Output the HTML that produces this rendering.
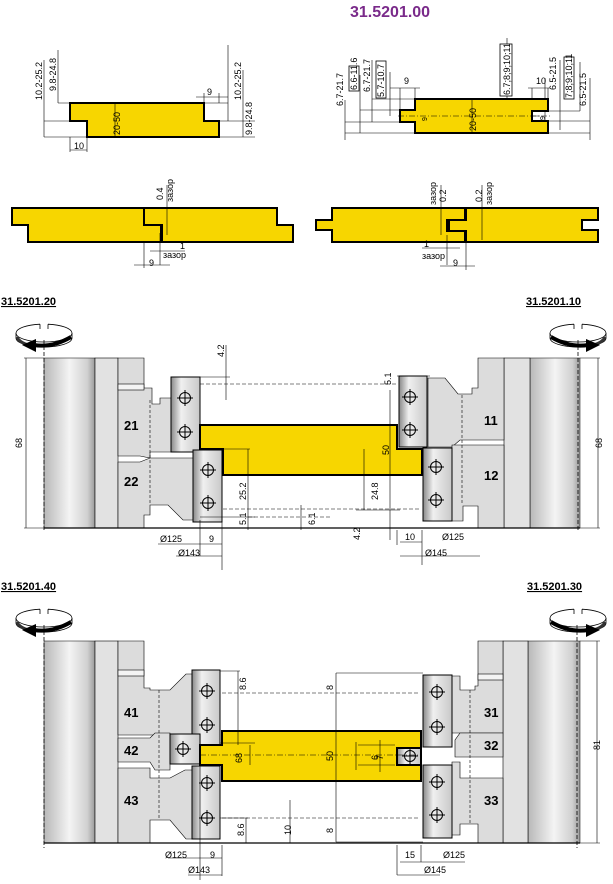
<!DOCTYPE html>
<html><head><meta charset="utf-8"><style>
html,body{margin:0;padding:0;background:#fff}
svg{display:block}
text{font-family:"Liberation Sans",sans-serif;font-size:9px;fill:#000}
.b{font-weight:bold;font-size:13px}
.t{font-weight:bold;font-size:11px;text-decoration:underline}
</style></head><body>
<svg width="613" height="884" viewBox="0 0 613 884" xmlns="http://www.w3.org/2000/svg">
<defs>
<linearGradient id="cyl" x1="0" x2="1" y1="0" y2="0">
<stop offset="0" stop-color="#b8b8b8"/><stop offset="0.5" stop-color="#f4f4f4"/><stop offset="0.85" stop-color="#d0d0d0"/><stop offset="1" stop-color="#9a9a9a"/></linearGradient>
<linearGradient id="kn" x1="0" x2="1" y1="0" y2="0">
<stop offset="0" stop-color="#888"/><stop offset="0.35" stop-color="#f0f0f0"/><stop offset="1" stop-color="#c8c8c8"/></linearGradient>
<g id="hole"><circle r="5.5" fill="none" stroke="#000" stroke-width="1"/><path d="M-8 0H8M0 -8V8" stroke="#000" stroke-width="1"/></g>
<g id="rot">
<path d="M16 333 V338 A28 9 0 0 0 72 338 V333" fill="#fff" stroke="#000" stroke-width="0.8"/>
<path d="M40 324.2 A28 9 0 0 0 16 333 A28 9 0 0 0 72 333 A28 9 0 0 0 48 324.2 M40 324.2 V329 M48 324.2 V329" fill="#fff" stroke="#000" stroke-width="0.8"/>
<path d="M17 337 Q20 344 34 346" fill="none" stroke="#333" stroke-width="3"/>
<path d="M34 345 Q52 348 71 337" fill="none" stroke="#000" stroke-width="4"/>
<polygon points="22,345 36,339 36,352" fill="#000"/>
</g>
</defs>

<text x="350" y="17" style="font-size:16px;font-weight:bold;fill:#7a2a8a">31.5201.00</text>

<!-- top-left profile -->
<g stroke="#000" stroke-width="0.6" fill="none">
<path d="M44 121H70M44 137H87M58 103H70M70 137V152M87 137V152M70 150H87M204 103H228M219 121H255M219 137H255M204 93V103M219 93V103M196 97H228"/>
<path d="M44 60V137M58 50V103M228 45V121M243 70V137M115 103V137"/>
</g>
<polygon points="70,103 204,103 204,121 219,121 219,137 87,137 87,121 70,121" fill="#f7d600" stroke="#000" stroke-width="2"/>
<line x1="115" y1="103" x2="115" y2="137" stroke="#000" stroke-width="0.6"/>
<text transform="translate(42,100) rotate(-90)">10.2-25.2</text>
<text transform="translate(56,91) rotate(-90)">9.8-24.8</text>
<text transform="translate(241,100) rotate(-90)">10.2-25.2</text>
<text transform="translate(252,135) rotate(-90)">9.8-24.8</text>
<text transform="translate(120,135) rotate(-90)">20-50</text>
<text x="74" y="149">10</text>
<text x="207" y="95">9</text>

<!-- top-right profile -->
<g stroke="#000" stroke-width="0.6" fill="none">
<path d="M345 122H400M345 133H415M360 110H400M372 99H415M390 88H420M400 88V116M415 88V99M345 100V140M360 75V133M372 60V122M390 72V116"/>
<path d="M548 111H580M548 121H590M548 133H590M532 88V116M548 88V99M528 88H550M507 38V133M545 78V121M560 60V130M580 62V111M590 78V140M400 116H540"/>
</g>
<polygon points="415,99 548,99 548,111 532,111 532,121 548,121 548,133 415,133 415,122 400,122 400,110 415,110" fill="#f7d600" stroke="#000" stroke-width="2"/>
<line x1="472" y1="99" x2="472" y2="133" stroke="#000" stroke-width="0.6"/>
<line x1="398" y1="116" x2="552" y2="116" stroke="#000" stroke-width="0.6" stroke-dasharray="6,2,1,2"/>
<g fill="#fff" stroke="#000" stroke-width="0.8">
<rect x="349" y="66" width="10" height="25"/><rect x="376" y="61" width="10" height="37"/>
<rect x="500" y="44" width="12" height="52"/><rect x="564" y="57" width="10" height="42"/>
</g>
<text transform="translate(343,106) rotate(-90)">6.7-21.7</text>
<text transform="translate(357,90) rotate(-90)">6.6-11.6</text>
<text transform="translate(370,92) rotate(-90)">6.7-21.7</text>
<text transform="translate(384,97) rotate(-90)">5.7-10.7</text>
<text transform="translate(510,95) rotate(-90)">6.7;8;9;10;11</text>
<text transform="translate(556,90) rotate(-90)">6.5-21.5</text>
<text transform="translate(572,98) rotate(-90)">7;8;9;10;11</text>
<text transform="translate(586,106) rotate(-90)">6.5-21.5</text>
<text transform="translate(476,131) rotate(-90)">20-50</text>
<text x="404" y="84">9</text>
<text x="536" y="84">10</text>
<text transform="translate(427,121) rotate(-90)" style="font-size:7px">9</text>
<text transform="translate(545,120) rotate(-90)" style="font-size:7px">9</text>

<!-- bottom-left joint -->
<polygon points="12,208 144,208 144,225 161,225 161,242 28,242 28,225 12,225" fill="#f7d600" stroke="#000" stroke-width="2"/>
<polygon points="144,208 277,208 277,225 293,225 293,242 162,242 162,225 144,225" fill="#f7d600" stroke="#000" stroke-width="2"/>
<g stroke="#000" stroke-width="0.6" fill="none"><path d="M167 185V235M160 233V265M144 242V268M134 265H170M150 251H185"/></g>
<text transform="translate(163,200) rotate(-90)">0.4</text>
<text transform="translate(173,202) rotate(-90)">зазор</text>
<text x="180" y="249">1</text><text x="163" y="258">зазор</text><text x="149" y="266">9</text>

<!-- bottom-right joint -->
<polygon points="332,208 465,208 465,220 447,220 447,231 465,231 465,242 332,242 332,230 316,230 316,220 332,220" fill="#f7d600" stroke="#000" stroke-width="2"/>
<polygon points="466,208 598,208 598,220 582,220 582,230 598,230 598,242 466,242 466,231 449,231 449,220 466,220" fill="#f7d600" stroke="#000" stroke-width="2"/>
<g stroke="#000" stroke-width="0.6" fill="none"><path d="M441 185V235M482 185V240M447 235V265M466 235V270M422 248H460M440 266H475"/></g>
<text transform="translate(446,202) rotate(-90)">0.2</text><text transform="translate(436,205) rotate(-90)">зазор</text>
<text transform="translate(482,202) rotate(-90)">0.2</text><text transform="translate(492,205) rotate(-90)">зазор</text>
<text x="424" y="247">1</text><text x="422" y="259">зазор</text><text x="453" y="266">9</text>

<!-- ================= middle section ================= -->
<text x="1" y="305" class="t">31.5201.20</text>
<text x="526" y="305" class="t">31.5201.10</text>
<use href="#rot"/>
<g transform="translate(622,0) scale(-1,1)"><use href="#rot"/></g>

<rect x="44" y="358" width="51" height="170" fill="url(#cyl)" stroke="#000" stroke-width="0.5"/>
<rect x="95" y="358" width="23" height="170" fill="#e2e2e2" stroke="#000" stroke-width="0.6"/>
<path d="M118 358H144V388H152V404H160V398H171V452H150V458L140 456H118Z" fill="#dcdcdc" stroke="#000" stroke-width="0.6"/>
<path d="M118 462H140L150 458H193V520H183L168 505H150V515H144V528H118Z" fill="#dcdcdc" stroke="#000" stroke-width="0.6"/>
<rect x="118" y="384" width="26" height="6" fill="#f4f4f4" stroke="#000" stroke-width="0.6"/>
<path d="M150 400V505" stroke="#000" stroke-width="0.6" stroke-dasharray="3,2"/>
<rect x="171" y="377" width="29" height="75" fill="url(#kn)" stroke="#000"/>
<rect x="193" y="450" width="29" height="72" fill="url(#kn)" stroke="#000"/>
<use href="#hole" x="185" y="398"/><use href="#hole" x="185" y="432"/>
<use href="#hole" x="208" y="470"/><use href="#hole" x="208" y="503"/>
<text x="124" y="430" class="b">21</text><text x="124" y="486" class="b">22</text>

<rect x="530" y="358" width="50" height="170" fill="url(#cyl)" stroke="#000" stroke-width="0.5"/>
<rect x="504" y="358" width="26" height="170" fill="#e2e2e2" stroke="#000" stroke-width="0.6"/>
<path d="M504 358H478V388H472V394H458L445 378H428V447H452L460 440H504Z" fill="#dcdcdc" stroke="#000" stroke-width="0.6"/>
<path d="M504 445H452V521H463V506H478V528H504Z" fill="#dcdcdc" stroke="#000" stroke-width="0.6"/>
<path d="M462 395V505" stroke="#000" stroke-width="0.6" stroke-dasharray="3,2"/>
<rect x="399" y="376" width="28" height="71" fill="url(#kn)" stroke="#000"/>
<rect x="423" y="448" width="29" height="73" fill="url(#kn)" stroke="#000"/>
<use href="#hole" x="410" y="397"/><use href="#hole" x="410" y="430"/>
<use href="#hole" x="436" y="467"/><use href="#hole" x="436" y="500"/>
<text x="484" y="425" class="b">11</text><text x="484" y="480" class="b">12</text>

<polygon points="200,425 397,425 397,449 422,449 422,475 223,475 223,449 200,449" fill="#f7d600" stroke="#000" stroke-width="2"/>
<g stroke="#000" stroke-width="0.6" fill="none">
<path d="M24 358H44M24 528H44M26 358V528M580 358H600M580 528H600M598 358V528"/>
<path d="M44 528H580" stroke-width="1.2"/>
<path d="M200 384H397M223 509H420M248 517H330" stroke-dasharray="4,2"/>
<path d="M200 377H230M226 345V400M248 449V530M223 449H250M200 517H255M301 530V505M397 449H420M390 390V540M397 376H430M364 449V510M356 510H400M397 530V545M422 530V545M422 545V565M222 522V570M200 520V556M158 544H222M176 556H222M400 556H480M400 542H422"/>
</g>
<text transform="translate(22,448) rotate(-90)">68</text>
<text transform="translate(602,448) rotate(-90)">68</text>
<text transform="translate(224,357) rotate(-90)">4.2</text>
<text transform="translate(246,500) rotate(-90)">25.2</text>
<text transform="translate(246,525) rotate(-90)">5.1</text>
<text transform="translate(315,525) rotate(-90)">6.1</text>
<text transform="translate(360,540) rotate(-90)">4.2</text>
<text transform="translate(391,385) rotate(-90)">5.1</text>
<text transform="translate(389,455) rotate(-90)">50</text>
<text transform="translate(378,500) rotate(-90)">24.8</text>
<text x="160" y="542">Ø125</text><text x="209" y="542">9</text>
<text x="178" y="556">Ø143</text>
<text x="405" y="540">10</text><text x="442" y="540">Ø125</text>
<text x="425" y="556">Ø145</text>

<!-- ================= bottom section ================= -->
<text x="1" y="590" class="t">31.5201.40</text>
<text x="527" y="590" class="t">31.5201.30</text>
<g transform="translate(0,285)"><use href="#rot"/></g>
<g transform="translate(622,285) scale(-1,1)"><use href="#rot"/></g>

<rect x="44" y="641" width="51" height="202" fill="url(#cyl)" stroke="#000" stroke-width="0.5"/>
<rect x="95" y="641" width="23" height="202" fill="#e2e2e2" stroke="#000" stroke-width="0.6"/>
<path d="M118 641H144V688H150V690H170L186 674H192V735H118Z" fill="#dcdcdc" stroke="#000" stroke-width="0.6"/>
<path d="M118 738H150L155 733H170V770H155L150 762H118Z" fill="#dcdcdc" stroke="#000" stroke-width="0.6"/>
<path d="M118 768H150V778H170L185 770H192V839H186L170 820H150V843H118Z" fill="#dcdcdc" stroke="#000" stroke-width="0.6"/>
<rect x="118" y="670" width="26" height="6" fill="#f4f4f4" stroke="#000" stroke-width="0.6"/>
<path d="M159 690V820" stroke="#000" stroke-width="0.6" stroke-dasharray="3,2"/>
<rect x="192" y="670" width="28" height="75" fill="url(#kn)" stroke="#000"/>
<rect x="192" y="766" width="28" height="73" fill="url(#kn)" stroke="#000"/>
<rect x="170" y="734" width="30" height="30" fill="url(#kn)" stroke="#000"/>
<use href="#hole" x="207" y="691"/><use href="#hole" x="207" y="725"/>
<use href="#hole" x="183" y="749"/>
<use href="#hole" x="207" y="783"/><use href="#hole" x="207" y="818"/>
<text x="124" y="717" class="b">41</text><text x="124" y="755" class="b">42</text><text x="124" y="805" class="b">43</text>

<rect x="528" y="641" width="52" height="202" fill="url(#cyl)" stroke="#000" stroke-width="0.5"/>
<rect x="503" y="641" width="25" height="202" fill="#e2e2e2" stroke="#000" stroke-width="0.6"/>
<path d="M503 641H478V686H475V690H460V676H452V733H503Z" fill="#dcdcdc" stroke="#000" stroke-width="0.6"/>
<path d="M503 733H460L455 740V757H503Z" fill="#dcdcdc" stroke="#000" stroke-width="0.6"/>
<path d="M503 778H460V762H452V835H460V824H478V843H503Z" fill="#dcdcdc" stroke="#000" stroke-width="0.6"/>
<rect x="478" y="674" width="25" height="6" fill="#f4f4f4" stroke="#000" stroke-width="0.6"/>
<path d="M470 690V825" stroke="#000" stroke-width="0.6" stroke-dasharray="3,2"/>
<rect x="423" y="675" width="29" height="72" fill="url(#kn)" stroke="#000"/>
<rect x="423" y="765" width="29" height="73" fill="url(#kn)" stroke="#000"/>
<use href="#hole" x="437" y="692"/><use href="#hole" x="437" y="727"/>
<use href="#hole" x="437" y="782"/><use href="#hole" x="437" y="815"/>
<text x="484" y="717" class="b">31</text><text x="484" y="750" class="b">32</text><text x="484" y="805" class="b">33</text>

<polygon points="222,731 421,731 421,748 397,748 397,765 421,765 421,781 222,781 222,765 200,765 200,745 222,745" fill="#f7d600" stroke="#000" stroke-width="2"/>
<rect x="397" y="748" width="24" height="17" fill="url(#kn)" stroke="#000" stroke-width="2"/>
<use href="#hole" x="410" y="756"/>
<line x1="200" y1="755" x2="421" y2="755" stroke="#000" stroke-width="0.6" stroke-dasharray="6,2,1,2"/>
<g stroke="#000" stroke-width="0.6" fill="none">
<path d="M44 843H580" stroke-width="1.2"/>
<path d="M580 641H600M580 843H600M597 641V843"/>
<path d="M222 693H420M222 818H420" stroke-dasharray="4,2"/>
<path d="M220 671H240M238 671V745M220 818H248M246 818V843M220 743H255M250 745V765M290 800V843M336 673V842M336 673H423M336 842H423M380 740V772M356 742V770M358 745H395M358 765H395"/>
<path d="M200 760V880M222 845V876M168 858H222M188 875H222M397 845V875M421 845V862M400 862H465M397 875H440"/>
</g>
<text transform="translate(246,690) rotate(-90)">8.6</text>
<text transform="translate(244,836) rotate(-90)">8.6</text>
<text transform="translate(242,763) rotate(-90)">68</text>
<text transform="translate(291,835) rotate(-90)">10</text>
<text transform="translate(333,690) rotate(-90)">8</text>
<text transform="translate(333,833) rotate(-90)">8</text>
<text transform="translate(333,761) rotate(-90)">50</text>
<text transform="translate(383,760) rotate(-90)">7</text>
<text transform="translate(378,760) rotate(-90)">6</text>
<text transform="translate(600,750) rotate(-90)">81</text>
<text x="165" y="858">Ø125</text><text x="210" y="858">9</text>
<text x="188" y="873">Ø143</text>
<text x="405" y="858">15</text><text x="443" y="858">Ø125</text>
<text x="424" y="873">Ø145</text>

<g stroke="#000" stroke-width="0.8" stroke-dasharray="4,2" fill="none">
<path d="M44 340V532M578 340V532M44 625V848M577 625V848"/>
</g>
</svg>
</body></html>
